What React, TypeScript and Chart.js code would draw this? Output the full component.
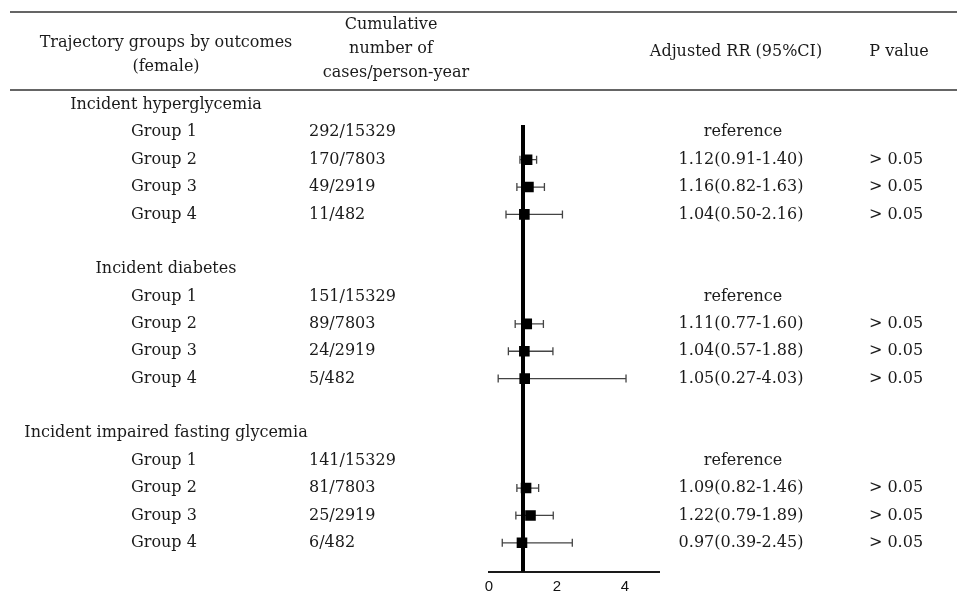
import React, { useEffect, useRef } from "react";
import { Chart, registerables } from "chart.js";
Chart.register(...registerables);

const sections = ["Incident hyperglycemia", "Incident diabetes", "Incident impaired fasting glycemia"];
const sectionRows = [0, 6, 12];
const groups = ["Group 1", "Group 2", "Group 3", "Group 4"];
const cases = [
  ["292/15329", "170/7803", "49/2919", "11/482"],
  ["151/15329", "89/7803", "24/2919", "5/482"],
  ["141/15329", "81/7803", "25/2919", "6/482"],
];
const rr = [
  [null, 1.12, 1.16, 1.04],
  [null, 1.11, 1.04, 1.05],
  [null, 1.09, 1.22, 0.97],
];
const lower = [
  [null, 0.91, 0.82, 0.5],
  [null, 0.77, 0.57, 0.27],
  [null, 0.82, 0.79, 0.39],
];
const upper = [
  [null, 1.4, 1.63, 2.16],
  [null, 1.6, 1.88, 4.03],
  [null, 1.46, 1.89, 2.45],
];
const pValues = [
  [null, "> 0.05", "> 0.05", "> 0.05"],
  [null, "> 0.05", "> 0.05", "> 0.05"],
  [null, "> 0.05", "> 0.05", "> 0.05"],
];
const xTicks = [0, 2, 4];
const refValue = 1;

const SERIF = "'DejaVu Serif', serif";
const TEXT = "#1a1a1a";

export default function App() {
  const ref = useRef<HTMLCanvasElement | null>(null);
  useEffect(() => {
    document.body.style.margin = "0";
    const canvas = ref.current!;
    const points: any[] = [];
    const bars: any[] = [];
    sections.forEach((_, s) => {
      groups.forEach((_, g) => {
        const row = sectionRows[s] + 1 + g;
        if (rr[s][g] != null) {
          points.push({ x: rr[s][g], y: row });
          bars.push({ lo: lower[s][g], hi: upper[s][g], y: row });
        }
      });
    });

    const errorBars = {
      id: "errorBars",
      beforeDatasetsDraw(chart: any) {
        const ctx = chart.ctx;
        const xs = chart.scales.x;
        const ys = chart.scales.y;
        ctx.save();
        ctx.strokeStyle = "#444";
        ctx.lineWidth = 1.3;
        bars.forEach((b) => {
          const y = ys.getPixelForValue(b.y);
          const x0 = xs.getPixelForValue(b.lo);
          const x1 = xs.getPixelForValue(b.hi);
          ctx.beginPath();
          ctx.moveTo(x0, y);
          ctx.lineTo(x1, y);
          ctx.moveTo(x0, y - 4);
          ctx.lineTo(x0, y + 4);
          ctx.moveTo(x1, y - 4);
          ctx.lineTo(x1, y + 4);
          ctx.stroke();
        });
        ctx.restore();
      },
    };

    const tableText = {
      id: "tableText",
      afterDraw(chart: any) {
        const ctx = chart.ctx;
        const ys = chart.scales.y;
        ctx.save();
        ctx.strokeStyle = "#333";
        ctx.lineWidth = 1.6;
        ctx.beginPath();
        ctx.moveTo(10, 12);
        ctx.lineTo(957, 12);
        ctx.moveTo(10, 90);
        ctx.lineTo(957, 90);
        ctx.stroke();

        ctx.fillStyle = TEXT;
        ctx.font = `16px ${SERIF}`;
        ctx.textBaseline = "middle";
        ctx.textAlign = "center";
        ctx.fillText("Trajectory groups by outcomes", 166, 43);
        ctx.fillText("(female)", 166, 67);
        ctx.fillText("Cumulative", 391, 25);
        ctx.fillText("number of", 391, 49);
        ctx.fillText("cases/person-year", 396, 73);
        ctx.fillText("Adjusted RR (95%CI)", 736, 52);
        ctx.fillText("P value", 899, 52);

        sections.forEach((name, s) => {
          ctx.textAlign = "center";
          ctx.fillText(name, 166, ys.getPixelForValue(sectionRows[s]));
          groups.forEach((gname, g) => {
            const y = ys.getPixelForValue(sectionRows[s] + 1 + g);
            ctx.textAlign = "left";
            ctx.fillText(gname, 131, y);
            ctx.fillText(cases[s][g], 309, y);
            ctx.textAlign = "center";
            if (rr[s][g] == null) {
              ctx.fillText("reference", 743, y);
            } else {
              ctx.fillText(
                `${rr[s][g]!.toFixed(2)}(${lower[s][g]!.toFixed(2)}-${upper[s][g]!.toFixed(2)})`,
                741,
                y
              );
              ctx.fillText(pValues[s][g]!, 896, y);
            }
          });
        });
        ctx.restore();
      },
    };

    const chart = new Chart(canvas, {
      type: "scatter",
      data: {
        datasets: [
          {
            type: "line",
            data: [
              { x: refValue, y: 0.73 },
              { x: refValue, y: 17.06 },
            ],
            borderColor: "#000",
            borderWidth: 4,
            pointRadius: 0,
          } as any,
          {
            data: points,
            pointStyle: "rect",
            pointRadius: 7.5,
            backgroundColor: "#000",
            borderWidth: 0,
          },
        ],
      },
      options: {
        responsive: false,
        animation: false,
        events: [],
        layout: { padding: { left: 489, right: 298, top: 77.6, bottom: 4.2 } },
        plugins: { legend: { display: false }, tooltip: { enabled: false } },
        scales: {
          x: {
            type: "linear",
            min: 0,
            max: 5,
            grid: { display: false, drawTicks: false },
            border: { display: true, color: "#1a1a1a", width: 2 },
            ticks: {
              color: "#111",
              padding: 6,
              font: { family: "'Liberation Sans', Arial, sans-serif", size: 15 },
            },
            afterBuildTicks: (axis: any) => {
              axis.ticks = xTicks.map((v) => ({ value: v }));
            },
          },
          y: {
            type: "linear",
            reverse: true,
            min: -1,
            max: 17.06,
            display: false,
          },
        },
      },
      plugins: [errorBars, tableText],
    });
    return () => chart.destroy();
  }, []);
  return (
    <div style={{ width: 957, height: 606 }}>
      <canvas ref={ref} width={957} height={606} />
    </div>
  );
}
